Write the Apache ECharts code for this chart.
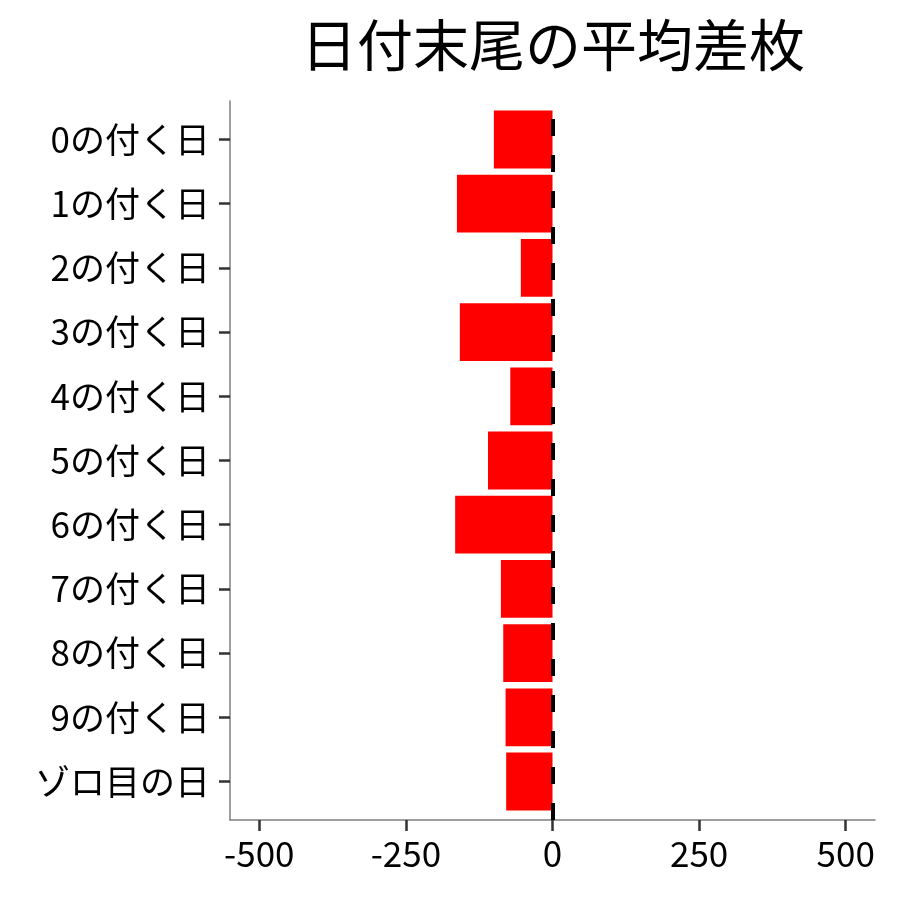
<!DOCTYPE html>
<html>
<head>
<meta charset="utf-8">
<title>日付末尾の平均差枚</title>
<script src="https://cdn.jsdelivr.net/npm/echarts@6/dist/echarts.min.js"></script>
<style>
  html, body { margin: 0; padding: 0; background: #fff; }
  #chart { width: 900px; height: 900px; }
</style>
</head>
<body>
<div id="chart"></div>
<script>
// カテゴリ（上から順）
const categories = ['0の付く日', '1の付く日', '2の付く日', '3の付く日', '4の付く日',
  '5の付く日', '6の付く日', '7の付く日', '8の付く日', '9の付く日', 'ゾロ目の日']
// 平均差枚
const avgDiff = [-100, -163, -54, -158, -72, -110, -166, -88, -84, -80, -79]
// x軸の目盛り
const xTicks = [-500, -250, 0, 250, 500]
const xMin = -550
const xMax = 550

const FONT = 'Noto Sans CJK JP'

const chart = echarts.init(document.getElementById('chart'), null, { renderer: 'canvas' })

const option = {
  backgroundColor: '#fff',
  animation: false,
  textStyle: { fontFamily: FONT },
  title: {
    text: '日付末尾の平均差枚',
    left: 548,
    textAlign: 'center',
    top: 12,
    textStyle: { fontFamily: FONT, fontSize: 56, fontWeight: 'normal', color: '#000' }
  },
  // grid 0 = パネル全体（軸線・x目盛り・点線）, grid 1 = 棒（ggplotの余白 0.6 に合わせる）
  grid: [
    { left: 230, right: 25, top: 101, bottom: 80, containLabel: false },
    { left: 230, right: 25, top: 107.4, bottom: 86.4, containLabel: false }
  ],
  xAxis: [
    {
      type: 'value', gridIndex: 0, min: xMin, max: xMax,
      splitLine: { show: false },
      axisLine: { show: true, onZero: false, lineStyle: { color: '#7f7f7f', width: 1.5 } },
      axisTick: { show: true, length: 11, customValues: xTicks, lineStyle: { color: '#333', width: 2.5 } },
      axisLabel: { show: true, customValues: xTicks, margin: 16, fontSize: 35, color: '#000', fontFamily: FONT }
    },
    {
      type: 'value', gridIndex: 1, min: xMin, max: xMax, show: false
    }
  ],
  yAxis: [
    {
      type: 'value', gridIndex: 0, min: 0, max: 1,
      splitLine: { show: false },
      axisLine: { show: true, onZero: false, lineStyle: { color: '#7f7f7f', width: 1.5 } },
      axisTick: { show: false },
      axisLabel: { show: false }
    },
    {
      type: 'category', gridIndex: 1, data: categories, inverse: true,
      // 軸線は grid 0 側で描くのでここでは透明
      axisLine: { show: true, onZero: false, lineStyle: { color: 'rgba(0,0,0,0)' } },
      axisTick: { show: true, alignWithLabel: true, length: 11, lineStyle: { color: '#333', width: 2.5 } },
      axisLabel: { margin: 20, fontSize: 35, color: '#000', fontFamily: FONT },
      splitLine: { show: false }
    }
  ],
  series: [
    {
      type: 'bar',
      xAxisIndex: 1,
      yAxisIndex: 1,
      data: avgDiff,
      barWidth: '90%',
      itemStyle: { color: '#ff0000' },
      z: 2
    },
    {
      // 0 の点線（パネルの上から下まで）
      type: 'line',
      xAxisIndex: 0,
      yAxisIndex: 0,
      data: [[0, 0.5]],
      showSymbol: false,
      symbol: 'none',
      lineStyle: { opacity: 0 },
      z: 5,
      markLine: {
        silent: true,
        symbol: ['none', 'none'],
        label: { show: false },
        lineStyle: { color: '#000', width: 4, type: [17, 19] },
        data: [{ xAxis: 0 }]
      }
    }
  ]
}

chart.setOption(option)
</script>
</body>
</html>
